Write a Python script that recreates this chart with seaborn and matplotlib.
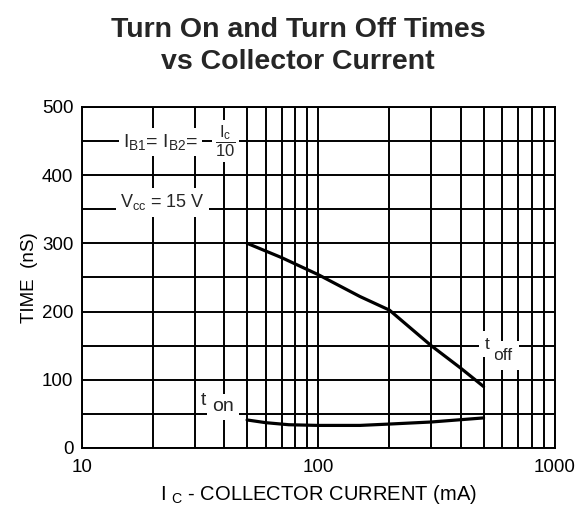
import numpy as np
import pandas as pd
import matplotlib
matplotlib.use("Agg")
import matplotlib.pyplot as plt
import seaborn as sns
from matplotlib.ticker import LogLocator, FixedLocator, NullFormatter

# values
ic_off = [50, 70, 100, 150, 200, 300, 400, 500]
t_off = [300, 279, 254, 222, 202, 150, 117, 90]
ic_on = [50, 60, 75, 100, 150, 200, 300, 500]
t_on = [41, 37, 34, 33, 33, 35, 38, 44]

x_ticks = [10, 100, 1000]
y_ticks = [0, 100, 200, 300, 400, 500]

sns.set_theme(style="white")
plt.rcParams['font.family'] = ['Liberation Sans', 'DejaVu Sans']
plt.rcParams['mathtext.fontset'] = 'custom'
plt.rcParams['mathtext.rm'] = 'Liberation Sans'
plt.rcParams['mathtext.it'] = 'Liberation Sans'

df = pd.concat([
    pd.DataFrame({"ic": ic_off, "t": t_off, "curve": "toff"}),
    pd.DataFrame({"ic": ic_on, "t": t_on, "curve": "ton"}),
])

fig = plt.figure(figsize=(5.84, 5.09), dpi=100)
ax = fig.add_axes([0.140, 0.120, 0.810, 0.670])

sns.lineplot(data=df, x="ic", y="t", hue="curve", palette=["black", "black"],
             linewidth=2.3, legend=False, ax=ax, zorder=4)

ax.set_xscale("log")
ax.set_xlim(10, 1000)
ax.set_ylim(0, 500)
ax.xaxis.set_major_locator(FixedLocator(x_ticks))
ax.xaxis.set_minor_locator(LogLocator(base=10, subs=np.arange(2, 10)))
ax.xaxis.set_minor_formatter(NullFormatter())
ax.set_xticklabels([str(v) for v in x_ticks])
ax.yaxis.set_major_locator(FixedLocator(y_ticks))
ax.yaxis.set_minor_locator(FixedLocator([50, 150, 250, 350, 450]))
ax.grid(True, which="both", color="black", linewidth=1.4)
ax.set_axisbelow(True)
for s in ax.spines.values():
    s.set_color("black")
    s.set_linewidth(1.4)
ax.tick_params(which="both", length=0, labelsize=13.5, colors="black")
ax.tick_params(axis="x", pad=8)
ax.tick_params(axis="y", pad=6)

ax.set_xlabel(r"I $_{\mathregular{C}}$ - COLLECTOR CURRENT (mA)", fontsize=14.5, color="black", labelpad=5)
ax.set_ylabel("TIME  (nS)", fontsize=13.5, color="black", labelpad=3)

fig.text(0.51, 0.909, "Turn On and Turn Off Times\nvs Collector Current",
         ha="center", va="center", fontsize=20.5, fontweight="bold", linespacing=1.3)

white = dict(facecolor="white", edgecolor="none", pad=3)

# IB1 = IB2 = Ic / 10
ax.text(14.9, 448, r"I$_{\mathregular{B1}}$= I$_{\mathregular{B2}}$=",
        fontsize=14, ha="left", va="center", bbox=white, zorder=5)
ax.text(40.5, 450, r"$\dfrac{\mathregular{I_c}}{\mathregular{10}}$", fontsize=12,
        ha="center", va="center", bbox=dict(facecolor="white", edgecolor="none", pad=2), zorder=5)

ax.text(14.5, 360, r"V$_{\mathregular{cc}}$ = 15 V", fontsize=13, ha="left", va="center",
        bbox=white, zorder=5)

# t on label
ax.text(32.0, 70, "t", fontsize=14, ha="left", va="center",
        bbox=dict(facecolor="white", edgecolor="none", pad=3), zorder=7)
ax.text(35.5, 60, "on", fontsize=14, ha="left", va="center",
        bbox=dict(facecolor="white", edgecolor="none", pad=3.5), zorder=6)

# t off label
ax.text(506, 152, "t", fontsize=12.5, ha="left", va="center",
        bbox=dict(facecolor="white", edgecolor="none", pad=4), zorder=7)
ax.text(550, 136, "off", fontsize=12.5, ha="left", va="center",
        bbox=dict(facecolor="white", edgecolor="none", pad=5), zorder=6)

fig.savefig("out.png", dpi=100)
